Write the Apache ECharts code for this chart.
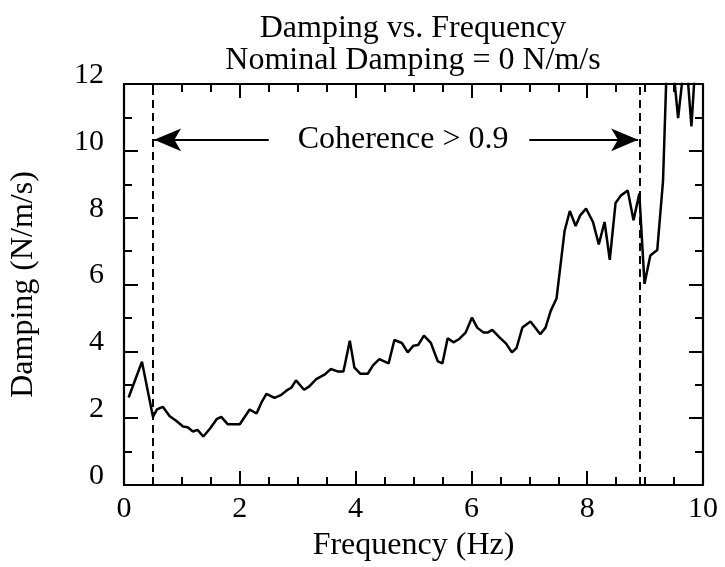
<!DOCTYPE html>
<html>
<head>
<meta charset="utf-8">
<script src="https://cdn.jsdelivr.net/npm/echarts@6/dist/echarts.min.js"></script>
<style>html,body{margin:0;padding:0;background:#fff}#c{width:725px;height:567px}</style>
</head>
<body>
<div id="c"></div>
<script>
const titleLines = ['Damping vs. Frequency', 'Nominal Damping = 0 N/m/s'];
const xName = 'Frequency (Hz)';
const yName = 'Damping (N/m/s)';
const annotation = 'Coherence > 0.9';
const coherenceBounds = [0.5, 8.9];
const arrowLevel = 10.33;
const arrowInnerEnds = [2.5, 7.0];
const annotationX = 4.82;
const frequency = [0.08,0.31,0.50,0.57,0.67,0.79,0.90,1.02,1.10,1.19,1.27,1.37,1.49,1.60,1.68,1.79,2.00,2.17,2.29,2.38,2.46,2.60,2.71,2.81,2.89,2.97,3.11,3.20,3.32,3.47,3.57,3.69,3.79,3.90,3.98,4.08,4.21,4.30,4.41,4.57,4.67,4.80,4.90,5.00,5.08,5.18,5.30,5.42,5.50,5.59,5.69,5.79,5.90,6.01,6.10,6.21,6.28,6.36,6.49,6.60,6.70,6.78,6.88,7.02,7.19,7.28,7.37,7.47,7.61,7.70,7.80,7.88,7.98,8.10,8.20,8.30,8.39,8.49,8.58,8.70,8.80,8.90,8.99,9.09,9.21,9.31,9.40,9.57,9.70,9.80,9.90,10.0];
const damping = [2.62,3.69,2.04,2.26,2.34,2.06,1.92,1.75,1.73,1.60,1.65,1.45,1.70,1.97,2.04,1.82,1.82,2.26,2.14,2.49,2.73,2.61,2.69,2.83,2.91,3.13,2.85,2.95,3.17,3.31,3.47,3.40,3.40,4.32,3.51,3.33,3.33,3.58,3.77,3.64,4.34,4.25,3.97,4.17,4.19,4.47,4.25,3.70,3.64,4.39,4.27,4.37,4.56,5.01,4.71,4.56,4.56,4.64,4.41,4.23,3.97,4.10,4.71,4.89,4.51,4.71,5.21,5.58,7.61,8.20,7.75,8.07,8.27,7.87,7.20,7.87,6.74,8.44,8.66,8.81,7.92,8.72,6.02,6.87,7.03,9.11,14.0,10.98,13.0,10.73,13.5,14.0];
const xTicks = [0,2,4,6,8,10];
const yTicks = [0,2,4,6,8,10,12];

const FONT = '"Liberation Serif", "DejaVu Serif", serif';
const chart = echarts.init(document.getElementById('c'), null, {renderer:'canvas'});
const tickStyle = {color:'#000', width:2};
function axisCommon(minorSplit){
  return {
    axisLine:{show:true, onZero:false, lineStyle:{color:'#000', width:2.2}},
    axisTick:{show:true, inside:true, length:14, lineStyle:tickStyle},
    minorTick:{show:true, splitNumber:minorSplit, length:8, lineStyle:tickStyle},
    splitLine:{show:false},
    axisLabel:{show:false}
  };
}
const nameStyle = {color:'#000', fontFamily:FONT, fontSize:32};
const lineData = frequency.map((f,i)=>[f, damping[i]]);
chart.setOption({
  animation:false,
  grid:{left:122, right:22, top:84, bottom:78, containLabel:false},
  graphic:[
    {type:'text', x:413, y:13, style:{text:titleLines[0], font:'32px '+FONT, fill:'#000', textAlign:'center', textVerticalAlign:'top'}},
    {type:'text', x:413, y:45, style:{text:titleLines[1], font:'32px '+FONT, fill:'#000', textAlign:'center', textVerticalAlign:'top'}}
  ],
  xAxis:[
    Object.assign({type:'value', position:'bottom', min:xTicks[0], max:xTicks[xTicks.length-1], interval:2,
      name:xName, nameLocation:'middle', nameGap:45, nameTextStyle:nameStyle}, axisCommon(4),
      {axisLabel:{show:true, color:'#000', fontFamily:FONT, fontSize:30, margin:9}}),
    Object.assign({type:'value', position:'top', min:0, max:10, interval:2}, axisCommon(4))
  ],
  yAxis:[
    Object.assign({type:'value', position:'left', min:yTicks[0], max:yTicks[yTicks.length-1], interval:2,
      name:yName, nameLocation:'middle', nameGap:84, nameRotate:90, nameTextStyle:nameStyle}, axisCommon(2),
      {axisLabel:{show:true, color:'#000', fontFamily:FONT, fontSize:30, margin:20, verticalAlign:'bottom', lineHeight:18}}),
    Object.assign({type:'value', position:'right', min:0, max:12, interval:2}, axisCommon(2))
  ],
  series:[
    {type:'line', data:lineData, showSymbol:false, symbol:'none', clip:true, lineStyle:{color:'#000', width:2.5}, z:3,
      markLine:{
        silent:true, animation:false, symbol:['none','none'],
        label:{show:false},
        lineStyle:{color:'#000', width:2, type:[8,5]},
        data:[
          [{coord:[coherenceBounds[0],0]},{coord:[coherenceBounds[0],12]}],
          [{coord:[coherenceBounds[1],0]},{coord:[coherenceBounds[1],12]}]
        ]
      }
    },
    {type:'line', data:[], xAxisIndex:0, yAxisIndex:0,
      markLine:{
        silent:true, animation:false, symbol:['none','arrow'], symbolSize:[17,27],
        label:{show:false},
        lineStyle:{color:'#000', width:2, type:'solid'},
        data:[
          [{coord:[arrowInnerEnds[0],arrowLevel]},{coord:[coherenceBounds[0]+0.02,arrowLevel]}],
          [{coord:[arrowInnerEnds[1],arrowLevel]},{coord:[coherenceBounds[1]-0.02,arrowLevel]}]
        ]
      },
      markPoint:{
        silent:true, symbol:'circle', symbolSize:0,
        label:{show:true, position:'inside', formatter:annotation, color:'#000', fontFamily:FONT, fontSize:32},
        data:[{coord:[annotationX, arrowLevel]}]
      }
    }
  ]
});
</script>
</body>
</html>
